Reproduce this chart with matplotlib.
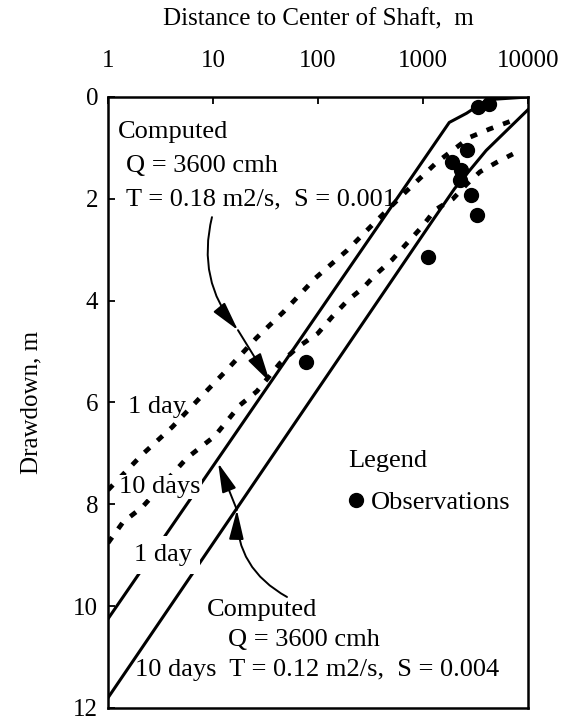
import matplotlib.pyplot as plt
from matplotlib.lines import Line2D
from matplotlib.ticker import NullLocator

plt.rcParams['font.family'] = ['Liberation Serif', 'DejaVu Serif']

# computed drawdown curves: distance (m), drawdown (m)
solid_upper_r = [1, 1780, 2600, 3300, 4300, 10000]
solid_upper_s = [10.25, 0.50, 0.32, 0.18, 0.05, 0.0]

solid_lower_r = [1, 1260, 2000, 4000, 10000]
solid_lower_s = [11.8, 2.4, 1.8, 1.05, 0.25]

dotted_upper_r = [1, 2.1, 4.1, 7.5, 13, 26, 47, 94, 190, 330, 680, 1360, 2800, 4300, 7850]
dotted_upper_s = [7.72, 7.03, 6.48, 5.91, 5.40, 4.73, 4.22, 3.56, 3.01, 2.51, 1.87, 1.28, 0.79, 0.63, 0.43]

dotted_lower_r = [1, 1.39, 2.11, 5.65, 10.4, 18.1, 26.2, 43.4, 64.6, 100, 136, 193, 269, 349,
                  507, 705, 977, 1300, 1930, 2620, 3490, 5070, 7190]
dotted_lower_s = [8.76, 8.35, 8.06, 7.09, 6.66, 6.05, 5.78, 5.23, 4.91, 4.64, 4.32, 3.99, 3.75, 3.50,
                  3.20, 2.87, 2.55, 2.22, 2.00, 1.71, 1.47, 1.28, 1.12]

# observed drawdowns
obs_r = [3340, 4250, 2620, 1890, 2300, 2250, 2870, 3270, 1115, 77]
obs_s = [0.20, 0.14, 1.04, 1.28, 1.43, 1.63, 1.93, 2.32, 3.14, 5.21]

x_ticks = [1, 10, 100, 1000, 10000]
x_tick_labels = ['1', '10', '100', '1000', '10000']
y_ticks = [0, 2, 4, 6, 8, 10, 12]

fig = plt.figure(figsize=(5.66, 7.2), dpi=100)
ax = fig.add_axes([0.1908, 0.0167, 0.742, 0.8486])

# Solid and dotted computed curves
ax.plot(solid_upper_r, solid_upper_s, color='black', lw=2.2)
ax.plot(solid_lower_r, solid_lower_s, color='black', lw=2.2)
ax.plot(dotted_upper_r, dotted_upper_s, color='black', lw=3.4,
        dashes=(1.5, 2.2), dash_capstyle='butt')
ax.plot(dotted_lower_r, dotted_lower_s, color='black', lw=3.4,
        dashes=(1.5, 2.2), dash_capstyle='butt')

# Observations
ax.plot(obs_r, obs_s, 'o', color='black', markersize=10, linestyle='none')

ax.set_xscale('log')
ax.set_xlim(1, 10000)
ax.set_ylim(12, 0)
ax.set_xticks(x_ticks)
ax.set_xticklabels(x_tick_labels)
ax.xaxis.set_minor_locator(NullLocator())
ax.set_yticks(y_ticks)

ax.tick_params(axis='x', which='both', top=True, bottom=False, labeltop=True,
               labelbottom=False, direction='in', length=5, width=1.3, pad=18,
               labelsize=18)
ax.tick_params(axis='y', right=False, direction='in', length=5, width=1.3,
               pad=7, labelsize=18)
for sp in ax.spines.values():
    sp.set_linewidth(1.8)

ax.xaxis.set_label_position('top')
ax.set_xlabel('Distance to Center of Shaft,  m', fontsize=18, labelpad=18)
ax.set_ylabel('Drawdown, m', fontsize=18, labelpad=22)

# Annotations
fs = 19
ax.text(1.245, 0.69, 'Computed', fontsize=fs, va='center')
ax.text(1.48, 1.36, 'Q = 3600 cmh', fontsize=fs, va='center')
ax.text(1.48, 2.02, 'T = 0.18 m2/s,  S = 0.001', fontsize=fs, va='center')
ax.text(1.55, 6.09, '1 day', fontsize=fs, va='center')
ax.text(1.27, 7.66, '10 days', fontsize=fs, va='center',
        bbox=dict(boxstyle='square,pad=0.05', fc='white', ec='none'))
ax.text(1.77, 9.0, '1 day', fontsize=fs, va='center',
        bbox=dict(boxstyle='square,pad=0.3', fc='white', ec='none'))
ax.text(8.77, 10.08, 'Computed', fontsize=fs, va='center')
ax.text(13.9, 10.67, 'Q = 3600 cmh', fontsize=fs, va='center')
ax.text(1.81, 11.26, '10 days  T = 0.12 m2/s,  S = 0.004', fontsize=fs, va='center')

head = '-|>,head_length=1.8,head_width=0.45'
arrow_kw = dict(color='black', lw=1.4, shrinkA=0, shrinkB=0, mutation_scale=10)
ax.annotate('', xy=(17.3, 4.58), xytext=(9.78, 2.36),
            arrowprops=dict(arrowstyle=head, connectionstyle='arc3,rad=0.25', **arrow_kw))
ax.annotate('', xy=(34.9, 5.6), xytext=(17.3, 4.58),
            arrowprops=dict(arrowstyle=head, **arrow_kw))
ax.annotate('', xy=(16.9, 8.11), xytext=(50.7, 9.82),
            arrowprops=dict(arrowstyle=head, connectionstyle='arc3,rad=-0.3', **arrow_kw))
ax.annotate('', xy=(11.2, 7.19), xytext=(16.9, 8.11),
            arrowprops=dict(arrowstyle=head, **arrow_kw))

# Legend
handle = Line2D([], [], marker='o', color='black', linestyle='none', markersize=10)
ax.legend([handle], ['Observations'], title='Legend', alignment='left',
          frameon=False, fontsize=fs, title_fontsize=fs, loc='upper left',
          bbox_to_anchor=(0.572, 0.422), borderaxespad=0, borderpad=0,
          handlelength=0.6, handletextpad=0.25, labelspacing=0.7)

fig.savefig('out.png', dpi=100)
